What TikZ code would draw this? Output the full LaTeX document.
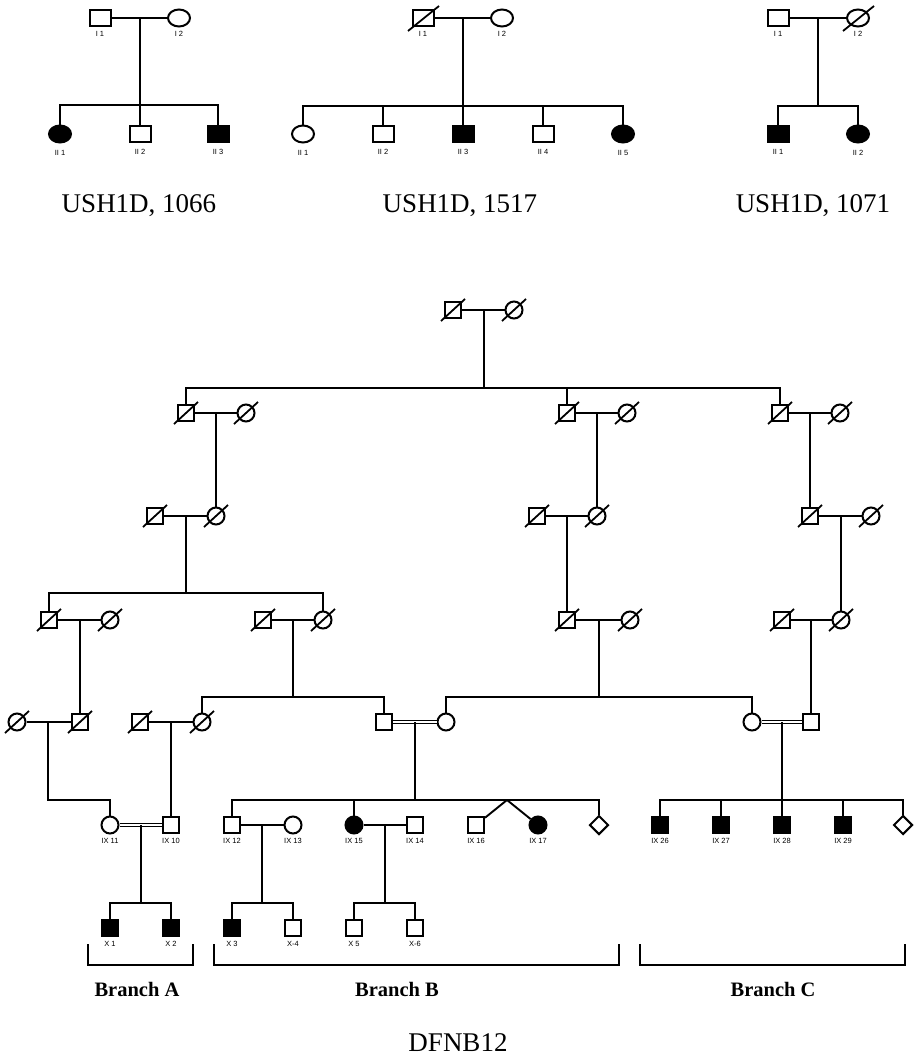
\documentclass[tikz,border=0pt]{standalone}
\usepackage{fontspec}
\setmainfont{Liberation Serif}
\newfontfamily\labsans{Liberation Sans}
\usetikzlibrary{calc, shapes.geometric}

% slash through a deceased person
\newcommand{\dead}[1]{\draw[line width=1.8] (#1.center) ++(-12,11) -- ++(24,-22);}
\newcommand{\deadtop}[1]{\draw[line width=1.8] (#1.center) ++(-15,13) -- ++(31,-25);}

\begin{document}
\begin{tikzpicture}[x=1pt, y=-1pt, line width=1.9,
  male/.style={draw, rectangle, minimum size=16, inner sep=0, line width=2},
  female/.style={draw, circle, minimum size=17, inner sep=0, line width=2},
  unknown/.style={draw, diamond, minimum width=19, minimum height=19, inner sep=0, line width=2},
  topmale/.style={male, minimum width=21, minimum height=16},
  topfemale/.style={draw, ellipse, minimum width=22, minimum height=17, inner sep=0, line width=2},
  aff/.style={fill=black},
  lab/.style={font=\labsans\fontsize{7.5}{8}\selectfont, inner sep=0.5, label distance=2.5},
  clab/.style={lab, label distance=5},
  title/.style={font=\fontsize{27}{31}\selectfont},
  branch/.style={font=\bfseries\fontsize{20.5}{23}\selectfont},
  cons/.style={double, double distance=2.4, line width=1.2}
]
\useasboundingbox (0,0) rectangle (921,1057);

% ---------- USH1D, 1066 ----------
\node[topmale] (a11) at (100,18) [label={[lab]below:I 1}] {};
\node[topfemale] (a12) at (179,18) [label={[lab]below:I 2}] {};
\coordinate (am) at (140,18);
\coordinate (as) at (140,105);
\draw (a11) -- (a12);
\draw (am) -- (as);
\node[topfemale, aff] (a21) at (60,134) [label={[clab]below:II 1}] {};
\node[topmale] (a22) at (140,134) [label={[clab]below:II 2}] {};
\node[topmale, aff] (a23) at (218,134) [label={[clab]below:II 3}] {};
\draw (as) -| (a21);
\draw (as) -- (a22);
\draw (as) -| (a23);
\node[title] (t1066) at (139,206) {USH1D, 1066};

% ---------- USH1D, 1517 ----------
\node[topmale] (b11) at (423,18) [label={[lab]below:I 1}] {};
\node[topfemale] (b12) at (502,18) [label={[lab]below:I 2}] {};
\deadtop{b11}
\coordinate (bm) at (463,18);
\coordinate (bs) at (463,106);
\draw (b11) -- (b12);
\draw (bm) -- (bs);
\node[topfemale] (b21) at (303,134) [label={[clab]below:II 1}] {};
\node[topmale] (b22) at (383,134) [label={[clab]below:II 2}] {};
\node[topmale, aff] (b23) at (463,134) [label={[clab]below:II 3}] {};
\node[topmale] (b24) at (543,134) [label={[clab]below:II 4}] {};
\node[topfemale, aff] (b25) at (623,134) [label={[clab]below:II 5}] {};
\foreach \k in {b21,b22,b24,b25} {\draw (bs) -| (\k);}
\draw (bs) -- (b23);
\node[title] (t1517) at (460,206) {USH1D, 1517};

% ---------- USH1D, 1071 ----------
\node[topmale] (c11) at (778,18) [label={[lab]below:I 1}] {};
\node[topfemale] (c12) at (858,18) [label={[lab]below:I 2}] {};
\deadtop{c12}
\coordinate (cm) at (818,18);
\coordinate (cs) at (818,106);
\draw (c11) -- (c12);
\draw (cm) -- (cs);
\node[topmale, aff] (c21) at (778,134) [label={[clab]below:II 1}] {};
\node[topfemale, aff] (c22) at (858,134) [label={[clab]below:II 2}] {};
\draw (cs) -| (c21);
\draw (cs) -| (c22);
\node[title] (t1071) at (813,206) {USH1D, 1071};

% ---------- DFNB12 ----------
% generation 1
\node[male] (g1m) at (453,310) {};
\node[female] (g1f) at (514,310) {};
\draw (g1m) -- (g1f);
\coordinate (m1) at (484,310);
\coordinate (s1) at (484,388);
\draw (m1) -- (s1);

% generation 2
\node[male] (g2a) at (186,413) {};
\node[female] (g2as) at (246,413) {};
\node[male] (g2b) at (567,413) {};
\node[female] (g2bs) at (627,413) {};
\node[male] (g2c) at (780,413) {};
\node[female] (g2cs) at (840,413) {};
\foreach \k in {g2a,g2b,g2c} {\draw (s1) -| (\k);}
\draw (g2a) -- (g2as);
\draw (g2b) -- (g2bs);
\draw (g2c) -- (g2cs);

% generation 3
\node[male] (g3as) at (155,516) {};
\node[female] (g3a) at (216,516) {};
\node[male] (g3bs) at (537,516) {};
\node[female] (g3b) at (597,516) {};
\node[male] (g3c) at (810,516) {};
\node[female] (g3cs) at (871,516) {};
\draw (216,413) -- (g3a);
\draw (597,413) -- (g3b);
\draw (810,413) -- (g3c);
\draw (g3as) -- (g3a);
\draw (g3bs) -- (g3b);
\draw (g3c) -- (g3cs);

% generation 4
\coordinate (s4) at (186,593);
\draw (186,516) -- (s4);
\node[male] (g4a) at (49,620) {};
\node[female] (g4as) at (110,620) {};
\node[male] (g4ds) at (263,620) {};
\node[female] (g4d) at (323,620) {};
\draw (s4) -| (g4a);
\draw (s4) -| (g4d);
\draw (g4a) -- (g4as);
\draw (g4ds) -- (g4d);
\node[male] (g4b) at (567,620) {};
\node[female] (g4bs) at (630,620) {};
\draw (567,516) -- (g4b);
\draw (g4b) -- (g4bs);
\node[male] (g4cs) at (782,620) {};
\node[female] (g4c) at (841,620) {};
\draw (841,516) -- (g4c);
\draw (g4cs) -- (g4c);

% generation 5
\node[female] (g5as) at (17,722) {};
\node[male] (g5a) at (80,722) {};
\draw (80,620) -- (g5a);
\draw (g5as) -- (g5a);
\coordinate (s5l) at (293,697);
\draw (293,620) -- (s5l);
\node[male] (g5bs) at (140,722) {};
\node[female] (g5b) at (202,722) {};
\node[male] (g5d) at (384,722) {};
\draw (s5l) -| (g5b);
\draw (s5l) -| (g5d);
\draw (g5bs) -- (g5b);
\coordinate (s5r) at (599,697);
\draw (599,620) -- (s5r);
\node[female] (g5e) at (446,722) {};
\node[female] (g5f) at (752,722) {};
\draw (s5r) -| (g5e);
\draw (s5r) -| (g5f);
\draw[cons] (g5d) -- (g5e);
\node[male] (g5c) at (811,722) {};
\draw (811,620) -- (g5c);
\draw[cons] (g5f) -- (g5c);

% deceased ancestors
\foreach \k in {g1m,g1f,g2a,g2as,g2b,g2bs,g2c,g2cs,g3as,g3a,g3bs,g3b,g3c,g3cs,
  g4a,g4as,g4ds,g4d,g4b,g4bs,g4cs,g4c,g5as,g5a,g5bs,g5b} {\dead{\k}}

% generation IX
\node[female] (ix11) at (110,825) [label={[lab]below:IX 11}] {};
\node[male] (ix10) at (171,825) [label={[lab]below:IX 10}] {};
\coordinate (e5a) at (48,800);
\draw (48,722) -- (e5a) -| (ix11);
\draw (171,722) -- (ix10);
\draw[cons] (ix11) -- (ix10);

\coordinate (s6) at (415,800);
\draw (415,722) -- (s6);
\node[male] (ix12) at (232,825) [label={[lab]below:IX 12}] {};
\node[female] (ix13) at (293,825) [label={[lab]below:IX 13}] {};
\node[female, aff] (ix15) at (354,825) [label={[lab]below:IX 15}] {};
\node[male] (ix14) at (415,825) [label={[lab]below:IX 14}] {};
\node[male] (ix16) at (476,825) [label={[lab]below:IX 16}] {};
\node[female, aff] (ix17) at (538,825) [label={[lab]below:IX 17}] {};
\node[unknown] (ixb) at (599,825) {};
\coordinate (tw) at (507,800);
\draw (s6) -| (ix12);
\draw (s6) -| (ix15);
\draw (s6) -| (ixb);
\draw (tw) -- (ix16);
\draw (tw) -- (ix17);
\draw (ix12) -- (ix13);
\draw (ix15) -- (ix14);

\coordinate (s6r) at (782,800);
\draw (782,722) -- (s6r);
\node[male, aff] (ix26) at (660,825) [label={[lab]below:IX 26}] {};
\node[male, aff] (ix27) at (721,825) [label={[lab]below:IX 27}] {};
\node[male, aff] (ix28) at (782,825) [label={[lab]below:IX 28}] {};
\node[male, aff] (ix29) at (843,825) [label={[lab]below:IX 29}] {};
\node[unknown] (ixc) at (903,825) {};
\foreach \k in {ix26,ix27,ix28,ix29,ixc} {\draw (s6r) -| (\k);}

% generation X
\coordinate (s7a) at (141,903);
\coordinate (s7b) at (262,903);
\coordinate (s7c) at (385,903);
\draw (141,825) -- (s7a);
\draw (262,825) -- (s7b);
\draw (385,825) -- (s7c);
\node[male, aff] (x1) at (110,928) [label={[lab]below:X 1}] {};
\node[male, aff] (x2) at (171,928) [label={[lab]below:X 2}] {};
\node[male, aff] (x3) at (232,928) [label={[lab]below:X 3}] {};
\node[male] (x4) at (293,928) [label={[lab]below:X-4}] {};
\node[male] (x5) at (354,928) [label={[lab]below:X 5}] {};
\node[male] (x6) at (415,928) [label={[lab]below:X-6}] {};
\draw (s7a) -| (x1); \draw (s7a) -| (x2);
\draw (s7b) -| (x3); \draw (s7b) -| (x4);
\draw (s7c) -| (x5); \draw (s7c) -| (x6);

% branches
\draw (88,944) -- (88,965) -- (193,965) -- (193,944);
\draw (214,944) -- (214,965) -- (619,965) -- (619,944);
\draw (640,944) -- (640,965) -- (905,965) -- (905,944);
\node[branch] (bra) at (137,989) {Branch A};
\node[branch] (brb) at (397,989) {Branch B};
\node[branch] (brc) at (773,989) {Branch C};
\node[title] (tdfnb) at (458,1043) {DFNB12};

\end{tikzpicture}
\end{document}
